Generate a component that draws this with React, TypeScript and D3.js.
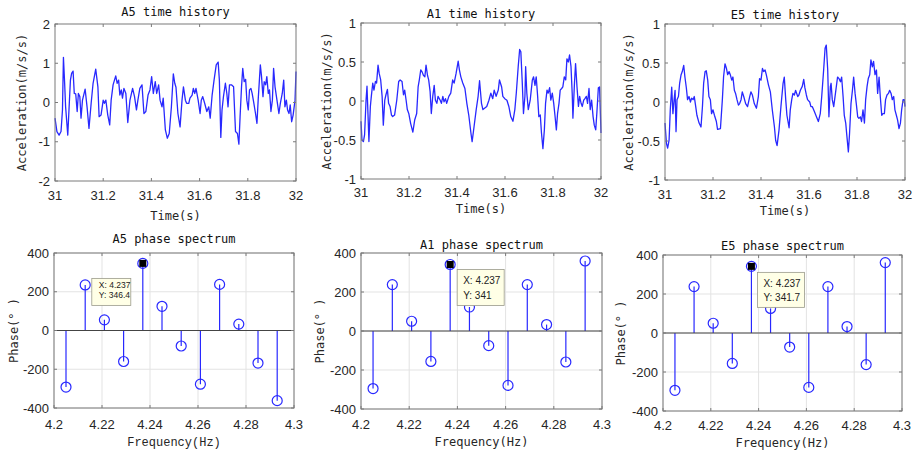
import React from "react";
import * as d3 from "d3";

// ---------- DATA ----------
const timeTicks = [31, 31.2, 31.4, 31.6, 31.8, 32];
const accTicksA5 = [-2, -1, 0, 1, 2];
const accTicksSmall = [-1, -0.5, 0, 0.5, 1];
const freqTicks = [4.2, 4.22, 4.24, 4.26, 4.28, 4.3];
const phaseTicks = [-400, -200, 0, 200, 400];

const freqs = [4.205, 4.213, 4.221, 4.229, 4.237, 4.245, 4.253, 4.261, 4.269, 4.277, 4.285, 4.293];
const phaseA5 = [-292, 235, 55, -160, 346.4, 125, -80, -277, 238, 33, -168, -362];
const phaseA1 = [-295, 238, 50, -156, 341, 123, -75, -279, 238, 33, -159, 359];
const phaseE5 = [-294, 238, 50, -156, 341.7, 126, -72, -279, 238, 33, -162, 361];

const accA5: [number, number][] = [
  [31.000,-0.40],[31.008,-0.74],[31.017,-0.83],[31.025,-0.74],[31.031,-0.19],[31.035,1.15],[31.040,0.49],[31.044,-0.11],
  [31.053,-0.83],[31.058,-0.19],[31.064,0.57],[31.069,0.74],[31.075,0.80],[31.080,0.23],[31.086,0.22],[31.092,-0.23],
  [31.097,0.23],[31.103,0.15],[31.108,-0.40],[31.114,0.06],[31.125,0.34],[31.133,-0.11],[31.141,-0.66],[31.150,-0.02],
  [31.158,0.49],[31.169,0.85],[31.178,0.40],[31.183,-0.36],[31.191,-0.32],[31.200,0.06],[31.205,-0.02],[31.211,0.06],
  [31.219,-0.32],[31.227,-0.57],[31.233,0.06],[31.241,0.45],[31.252,0.68],[31.258,0.49],[31.264,0.57],[31.269,0.19],
  [31.275,0.32],[31.280,0.11],[31.286,0.36],[31.294,0.23],[31.302,-0.51],[31.311,0.06],[31.322,0.36],[31.330,0.15],
  [31.338,-0.19],[31.344,0.06],[31.352,0.36],[31.361,0.45],[31.369,-0.28],[31.377,-0.23],[31.386,0.19],[31.394,0.32],
  [31.401,0.66],[31.408,0.23],[31.416,0.53],[31.422,0.23],[31.430,0.45],[31.436,0.06],[31.444,-0.11],[31.449,0.11],
  [31.458,-0.70],[31.466,-0.91],[31.474,-0.79],[31.483,-0.11],[31.491,0.73],[31.497,0.49],[31.502,0.39],[31.510,-0.28],
  [31.519,-0.62],[31.527,0.06],[31.533,0.40],[31.541,0.06],[31.546,-0.02],[31.555,-0.02],[31.560,0.11],[31.569,0.19],
  [31.574,0.36],[31.580,0.23],[31.585,0.36],[31.594,0.06],[31.602,-0.28],[31.607,0.06],[31.613,0.15],[31.621,-0.02],
  [31.630,-0.23],[31.638,-0.11],[31.644,-0.40],[31.652,0.19],[31.660,0.57],[31.669,0.96],[31.677,1.03],[31.682,0.57],
  [31.688,-0.89],[31.693,-0.19],[31.699,0.15],[31.707,0.49],[31.713,0.23],[31.718,-0.11],[31.724,0.45],[31.732,0.45],
  [31.741,0.40],[31.749,-0.74],[31.757,-0.79],[31.763,-1.06],[31.768,-0.36],[31.774,0.40],[31.779,0.87],[31.785,0.53],
  [31.791,0.59],[31.796,0.06],[31.802,-0.19],[31.807,0.32],[31.813,0.36],[31.818,0.23],[31.824,0.02],[31.832,-0.28],
  [31.838,-0.53],[31.843,0.06],[31.852,0.96],[31.857,0.66],[31.863,0.15],[31.868,0.53],[31.874,0.45],[31.879,0.66],
  [31.885,0.23],[31.890,0.32],[31.896,-0.23],[31.902,0.06],[31.907,0.87],[31.913,0.40],[31.921,0.06],[31.929,-0.28],
  [31.935,-0.02],[31.943,0.23],[31.949,0.57],[31.954,-0.11],[31.960,0.06],[31.965,-0.19],[31.971,-0.28],[31.976,-0.06],
  [31.982,-0.49],[31.988,-0.32],[31.996,0.06],[32.000,0.79],
];

const accA1: [number, number][] = [
  [31.000,-0.26],[31.004,-0.50],[31.010,-0.52],[31.015,-0.43],[31.021,0.01],[31.025,0.19],[31.029,-0.16],[31.033,-0.52],
  [31.039,-0.07],[31.043,0.06],[31.049,0.23],[31.054,0.14],[31.060,0.25],[31.065,0.23],[31.071,0.46],[31.076,0.35],
  [31.082,0.27],[31.088,0.06],[31.093,-0.31],[31.099,0.01],[31.104,0.08],[31.110,0.15],[31.115,-0.03],[31.121,-0.07],
  [31.127,-0.18],[31.132,-0.20],[31.140,-0.18],[31.149,0.01],[31.157,0.25],[31.163,0.27],[31.171,0.25],[31.177,0.08],
  [31.182,0.14],[31.188,0.01],[31.193,-0.11],[31.199,-0.16],[31.207,-0.29],[31.216,-0.40],[31.224,-0.24],[31.232,-0.16],
  [31.238,0.18],[31.243,0.27],[31.249,0.40],[31.255,0.37],[31.260,0.33],[31.266,0.31],[31.271,0.46],[31.277,0.33],
  [31.282,0.27],[31.288,0.12],[31.293,-0.16],[31.299,0.06],[31.305,0.20],[31.310,0.01],[31.316,-0.03],[31.321,0.06],
  [31.330,0.01],[31.335,-0.03],[31.341,0.06],[31.346,-0.01],[31.352,0.03],[31.357,-0.03],[31.366,0.06],[31.374,0.10],
  [31.382,0.27],[31.388,0.23],[31.396,0.35],[31.405,0.51],[31.410,0.40],[31.416,0.31],[31.424,0.23],[31.433,0.16],
  [31.441,-0.03],[31.449,-0.18],[31.458,-0.41],[31.463,-0.52],[31.471,-0.33],[31.480,-0.11],[31.488,0.06],[31.494,0.26],
  [31.502,-0.03],[31.508,-0.11],[31.516,-0.09],[31.524,-0.07],[31.533,0.01],[31.541,0.10],[31.549,0.03],[31.555,0.14],
  [31.563,0.06],[31.572,0.14],[31.577,0.27],[31.586,0.18],[31.591,0.06],[31.599,0.03],[31.608,0.01],[31.616,-0.07],
  [31.624,-0.20],[31.633,-0.26],[31.641,-0.11],[31.647,0.10],[31.655,0.44],[31.661,0.66],[31.666,0.63],[31.672,0.23],
  [31.677,-0.16],[31.683,0.06],[31.686,0.44],[31.691,0.10],[31.697,-0.11],[31.705,0.01],[31.714,0.27],[31.719,0.31],
  [31.725,0.20],[31.730,0.31],[31.736,0.06],[31.741,-0.20],[31.747,-0.18],[31.752,-0.41],[31.758,-0.61],[31.764,-0.37],
  [31.769,-0.03],[31.775,0.14],[31.780,0.10],[31.786,0.17],[31.791,0.01],[31.797,0.10],[31.803,-0.03],[31.808,-0.18],
  [31.814,-0.37],[31.819,-0.16],[31.825,-0.03],[31.830,0.14],[31.836,0.16],[31.841,0.18],[31.847,0.31],[31.853,0.27],
  [31.858,0.54],[31.864,0.50],[31.869,0.59],[31.875,0.44],[31.880,0.10],[31.883,-0.22],[31.889,0.20],[31.894,0.48],
  [31.900,0.18],[31.906,-0.07],[31.911,0.06],[31.917,-0.03],[31.922,-0.07],[31.928,0.01],[31.933,0.03],[31.939,0.06],
  [31.944,-0.03],[31.950,0.16],[31.955,-0.11],[31.961,0.01],[31.967,-0.20],[31.972,-0.31],[31.978,-0.37],[31.983,-0.14],
  [31.989,0.17],[31.994,0.18],[32.000,-0.41],
];

const accE5: [number, number][] = [
  [31.000,-0.27],[31.006,-0.53],[31.011,-0.59],[31.017,-0.49],[31.022,-0.10],[31.028,0.19],[31.033,-0.15],[31.038,0.03],
  [31.042,0.15],[31.046,-0.38],[31.050,0.03],[31.056,0.07],[31.061,0.24],[31.067,0.35],[31.072,0.39],[31.078,0.47],
  [31.083,0.32],[31.089,0.18],[31.094,0.03],[31.100,0.07],[31.106,0.00],[31.111,0.05],[31.117,0.03],[31.122,0.07],
  [31.128,-0.06],[31.133,-0.17],[31.142,-0.27],[31.150,-0.32],[31.156,-0.06],[31.161,0.24],[31.167,0.39],[31.172,0.40],
  [31.178,0.28],[31.183,0.07],[31.189,0.03],[31.194,-0.15],[31.200,-0.10],[31.206,-0.17],[31.214,-0.25],[31.219,-0.35],
  [31.231,-0.34],[31.239,0.03],[31.244,0.32],[31.250,0.49],[31.256,0.43],[31.261,0.35],[31.267,0.39],[31.272,0.35],
  [31.278,0.28],[31.283,0.32],[31.289,0.15],[31.294,0.11],[31.300,0.03],[31.306,-0.04],[31.311,-0.02],[31.317,0.03],
  [31.322,0.13],[31.328,0.07],[31.336,-0.02],[31.344,-0.06],[31.353,0.07],[31.358,0.13],[31.364,0.09],[31.372,-0.02],
  [31.381,-0.08],[31.389,0.07],[31.394,0.30],[31.400,0.28],[31.406,0.43],[31.411,0.39],[31.417,0.41],[31.422,0.35],
  [31.431,0.22],[31.439,0.13],[31.447,-0.10],[31.456,-0.32],[31.461,-0.49],[31.467,-0.56],[31.475,-0.36],[31.483,-0.06],
  [31.492,0.24],[31.497,0.32],[31.503,0.03],[31.508,-0.17],[31.517,-0.33],[31.522,-0.10],[31.528,0.03],[31.533,0.11],
  [31.539,0.09],[31.544,0.15],[31.553,0.07],[31.558,0.09],[31.564,0.15],[31.572,0.20],[31.578,0.29],[31.583,0.18],
  [31.589,0.09],[31.594,0.03],[31.603,0.00],[31.608,-0.06],[31.614,-0.06],[31.622,-0.12],[31.631,-0.19],[31.639,-0.25],
  [31.647,-0.15],[31.653,0.07],[31.661,0.41],[31.667,0.69],[31.672,0.73],[31.678,0.41],[31.683,-0.19],[31.689,0.20],
  [31.692,0.24],[31.697,0.03],[31.703,-0.06],[31.711,0.13],[31.719,0.32],[31.725,0.30],[31.731,0.26],[31.736,0.32],
  [31.742,0.07],[31.747,-0.17],[31.753,-0.27],[31.758,-0.44],[31.764,-0.64],[31.769,-0.40],[31.775,-0.02],[31.781,0.15],
  [31.786,0.32],[31.792,0.11],[31.797,-0.02],[31.803,-0.19],[31.808,-0.21],[31.814,-0.19],[31.819,-0.25],[31.825,-0.10],
  [31.831,-0.27],[31.836,0.03],[31.842,0.20],[31.847,0.30],[31.853,0.35],[31.858,0.54],[31.864,0.45],[31.869,0.52],
  [31.875,0.35],[31.881,0.41],[31.886,0.11],[31.892,0.32],[31.897,0.07],[31.903,-0.17],[31.908,-0.15],[31.914,-0.15],
  [31.919,0.03],[31.925,0.09],[31.931,0.11],[31.936,0.15],[31.942,0.11],[31.947,0.03],[31.953,0.07],[31.958,-0.10],
  [31.964,-0.17],[31.969,-0.23],[31.975,-0.34],[31.981,-0.27],[31.986,-0.10],[31.992,0.03],[31.997,0.03],[32.000,-0.06],
];

const selectedIndex = 4;

// ---------- STYLE / LAYOUT ----------
const MONO = "'DejaVu Sans Mono', monospace";
const SANS = "'Liberation Sans', Arial, sans-serif";
const BLUE = "#2828ff";
const AXIS = "#7a7a7a";
const TEXT = "#262626";
const GRID = "#e3e3e3";

type Box = { left: number; right: number; top: number; bottom: number };

interface TimeCfg extends Box {
  title: string; titleY: number; yTicks: number[]; ylabelX: number; xTickY: number; xLabelY: number;
  data: [number, number][];
}
interface PhaseCfg extends Box {
  title: string; titleY: number; ylabelX: number; xTickY: number; xLabelY: number; xLabelFont: string;
  data: number[]; tip: { dx: number; dy: number; w: number; h: number; fs: number; l1: number; l2: number; tx: number };
}

const timePanels: TimeCfg[] = [
  { left: 55, right: 296, top: 24, bottom: 181, title: "A5 time history", titleY: 16, yTicks: accTicksA5, ylabelX: 22, xTickY: 200, xLabelY: 220, data: accA5 },
  { left: 361, right: 601, top: 23, bottom: 179, title: "A1 time history", titleY: 18, yTicks: accTicksSmall, ylabelX: 327, xTickY: 197, xLabelY: 213, data: accA1 },
  { left: 665, right: 905, top: 24, bottom: 180, title: "E5 time history", titleY: 19, yTicks: accTicksSmall, ylabelX: 629, xTickY: 199, xLabelY: 215, data: accE5 },
];

const phasePanels: PhaseCfg[] = [
  { left: 54, right: 294, top: 253, bottom: 408, title: "A5 phase spectrum", titleY: 243, ylabelX: 14, xTickY: 429, xLabelY: 446, xLabelFont: "'Liberation Mono', monospace",
    data: phaseA5, tip: { dx: -51, dy: 15, w: 39, h: 27, fs: 8.5, l1: 9.5, l2: 19.5, tx: 7 } },
  { left: 361, right: 602, top: 253, bottom: 409, title: "A1 phase spectrum", titleY: 249, ylabelX: 320, xTickY: 429, xLabelY: 446, xLabelFont: MONO,
    data: phaseA1, tip: { dx: 7, dy: 5, w: 47, h: 36, fs: 10, l1: 14.5, l2: 29, tx: 6 } },
  { left: 663, right: 902, top: 255, bottom: 411, title: "E5 phase spectrum", titleY: 250, ylabelX: 621, xTickY: 430, xLabelY: 447, xLabelFont: MONO,
    data: phaseE5, tip: { dx: 6, dy: 6, w: 47, h: 35, fs: 10, l1: 14.5, l2: 29, tx: 6 } },
];

const fmt = (v: number) => String(+v.toFixed(3));
const TICK = 3;

function Frame({ b }: { b: Box }) {
  return <rect x={b.left} y={b.top} width={b.right - b.left} height={b.bottom - b.top} fill="none" stroke={AXIS} strokeWidth={1} />;
}

function TimePanel({ c }: { c: TimeCfg }) {
  const x = d3.scaleLinear().domain([31, 32]).range([c.left, c.right]);
  const yd = d3.extent(c.yTicks) as [number, number];
  const y = d3.scaleLinear().domain(yd).range([c.bottom, c.top]);
  const line = d3.line<[number, number]>().x((d) => x(d[0])).y((d) => y(d[1]));
  const cx = (c.left + c.right) / 2;
  const cy = (c.top + c.bottom) / 2;
  return (
    <g>
      <rect x={c.left} y={c.top} width={c.right - c.left} height={c.bottom - c.top} fill="#fff" />
      <path d={line(c.data) || ""} fill="none" stroke={BLUE} strokeWidth={1.3} strokeLinejoin="round" />
      <Frame b={c} />
      {timeTicks.map((t) => (
        <g key={"x" + t}>
          <line x1={x(t)} x2={x(t)} y1={c.bottom} y2={c.bottom - TICK} stroke={AXIS} />
          <line x1={x(t)} x2={x(t)} y1={c.top} y2={c.top + TICK} stroke={AXIS} />
          <text x={x(t)} y={c.xTickY} textAnchor="middle" fontFamily={SANS} fontSize={13} fill={TEXT}>{fmt(t)}</text>
        </g>
      ))}
      {c.yTicks.map((t) => (
        <g key={"y" + t}>
          <line x1={c.left} x2={c.left + TICK} y1={y(t)} y2={y(t)} stroke={AXIS} />
          <line x1={c.right} x2={c.right - TICK} y1={y(t)} y2={y(t)} stroke={AXIS} />
          <text x={c.left - 5} y={y(t) + 4.5} textAnchor="end" fontFamily={SANS} fontSize={13} fill={TEXT}>{fmt(t)}</text>
        </g>
      ))}
      <text x={cx} y={c.titleY} textAnchor="middle" fontFamily={MONO} fontSize={12} fill="#111">{c.title}</text>
      <text x={cx} y={c.xLabelY} textAnchor="middle" fontFamily={MONO} fontSize={12} fill={TEXT}>Time(s)</text>
      <text transform={`translate(${c.ylabelX},${cy}) rotate(-90)`} textAnchor="middle" dominantBaseline="central" fontFamily={MONO} fontSize={12} fill={TEXT}>Acceleration(m/s/s)</text>
    </g>
  );
}

function PhasePanel({ c }: { c: PhaseCfg }) {
  const x = d3.scaleLinear().domain([4.2, 4.3]).range([c.left, c.right]);
  const y = d3.scaleLinear().domain([-400, 400]).range([c.bottom, c.top]);
  const cx = (c.left + c.right) / 2;
  const cy = (c.top + c.bottom) / 2;
  const sx = x(freqs[selectedIndex]);
  const sy = y(c.data[selectedIndex]);
  const t = c.tip;
  return (
    <g>
      <rect x={c.left} y={c.top} width={c.right - c.left} height={c.bottom - c.top} fill="#fff" />
      {freqTicks.map((f) => (
        <line key={"gx" + f} x1={x(f)} x2={x(f)} y1={c.top} y2={c.bottom} stroke={GRID} />
      ))}
      {phaseTicks.map((p) => (
        <line key={"gy" + p} x1={c.left} x2={c.right} y1={y(p)} y2={y(p)} stroke={GRID} />
      ))}
      {freqs.map((f, i) => (
        <g key={"s" + i}>
          <line x1={x(f)} x2={x(f)} y1={y(0)} y2={y(c.data[i])} stroke={BLUE} strokeWidth={1.2} />
          <circle cx={x(f)} cy={y(c.data[i])} r={5} fill="none" stroke={BLUE} strokeWidth={1.2} />
        </g>
      ))}
      <line x1={c.left} x2={c.right} y1={y(0)} y2={y(0)} stroke="#444" strokeWidth={1} />
      <Frame b={c} />
      {freqTicks.map((f) => (
        <g key={"x" + f}>
          <line x1={x(f)} x2={x(f)} y1={c.bottom} y2={c.bottom - TICK} stroke={AXIS} />
          <line x1={x(f)} x2={x(f)} y1={c.top} y2={c.top + TICK} stroke={AXIS} />
          <text x={x(f)} y={c.xTickY} textAnchor="middle" fontFamily={SANS} fontSize={13} fill={TEXT}>{fmt(f)}</text>
        </g>
      ))}
      {phaseTicks.map((p) => (
        <g key={"y" + p}>
          <line x1={c.left} x2={c.left + TICK} y1={y(p)} y2={y(p)} stroke={AXIS} />
          <line x1={c.right} x2={c.right - TICK} y1={y(p)} y2={y(p)} stroke={AXIS} />
          <text x={c.left - 5} y={y(p) + 4.5} textAnchor="end" fontFamily={SANS} fontSize={13} fill={TEXT}>{fmt(p)}</text>
        </g>
      ))}
      {/* data tip */}
      <rect x={sx - 3.5} y={sy - 3.5} width={7} height={7} fill="#000" />
      <rect x={sx + t.dx} y={sy + t.dy} width={t.w} height={t.h} fill="#ffffe6" stroke="#9a9a8a" strokeWidth={0.8} />
      <text x={sx + t.dx + t.tx} y={sy + t.dy + t.l1} fontFamily={SANS} fontSize={t.fs} fill="#222">{`X: ${freqs[selectedIndex]}`}</text>
      <text x={sx + t.dx + t.tx} y={sy + t.dy + t.l2} fontFamily={SANS} fontSize={t.fs} fill="#222">{`Y: ${c.data[selectedIndex]}`}</text>
      <text x={cx} y={c.titleY} textAnchor="middle" fontFamily={MONO} fontSize={12} fill="#111">{c.title}</text>
      <text x={cx} y={c.xLabelY} textAnchor="middle" fontFamily={c.xLabelFont} fontSize={12} fill={TEXT}>Frequency(Hz)</text>
      <text transform={`translate(${c.ylabelX},${cy}) rotate(-90)`} textAnchor="middle" dominantBaseline="central" fontFamily={MONO} fontSize={12} fill={TEXT}>Phase(° )</text>
    </g>
  );
}

export default function App() {
  return (
    <div style={{ position: "absolute", left: 0, top: 0, width: 916, height: 452, background: "#fff" }}>
      <svg width={916} height={452} viewBox="0 0 916 452" style={{ display: "block" }}>
        <rect width={916} height={452} fill="#fff" />
        {timePanels.map((c) => <TimePanel key={c.title} c={c} />)}
        {phasePanels.map((c) => <PhasePanel key={c.title} c={c} />)}
      </svg>
    </div>
  );
}
